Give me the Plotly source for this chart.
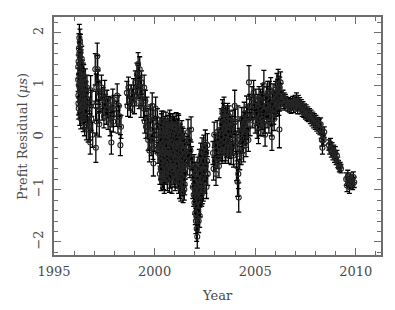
import plotly.graph_objects as go

# Epoch (year), prefit residual (microseconds), and 1-sigma uncertainty.
years = [
 1996.20,1996.21,1996.22,1996.23,1996.24,1996.25,1996.26,1996.27,1996.27,1996.28,1996.29,1996.30,1996.30,1996.31,1996.32,1996.33,1996.34,1996.35,1996.36,1996.37,1996.38,1996.39,1996.40,1996.41,1996.42,1996.44,1996.45,1996.46,1996.48,1996.49,1996.51,1996.52,1996.54,1996.56,1996.57,1996.59,1996.61,1996.62,1996.64,1996.66,1996.68,1996.70,
 1996.76,1996.78,1996.80,1996.82,1996.85,1996.88,1996.92,
 1997.05,1997.07,1997.08,1997.10,1997.12,1997.15,1997.17,1997.19,1997.21,1997.23,1997.25,1997.28,
 1997.36,1997.40,1997.44,1997.48,1997.52,1997.56,1997.60,1997.63,1997.66,1997.69,1997.72,
 1997.79,1997.82,1997.85,1997.88,1997.92,1997.95,1997.98,
 1998.10,1998.14,1998.18,1998.22,1998.26,1998.30,1998.33,
 1998.62,1998.66,1998.70,1998.75,1998.80,1998.84,
 1998.90,1998.95,1999.00,1999.04,1999.08,1999.12,1999.15,1999.18,1999.20,1999.23,1999.26,1999.29,1999.32,1999.35,1999.38,
 1999.45,1999.48,1999.51,1999.54,1999.57,
 1999.62,1999.65,1999.68,1999.71,1999.74,1999.77,1999.80,1999.83,
 1999.88,1999.90,1999.92,1999.94,1999.96,1999.98,
 2000.05,2000.08,2000.11,2000.14,2000.17,2000.20,
 2000.26,2000.27,2000.28,2000.30,2000.31,2000.32,2000.34,2000.35,2000.36,2000.38,
 2000.39,2000.40,2000.42,2000.43,2000.44,2000.46,2000.47,2000.48,2000.50,2000.51,
 2000.52,2000.54,2000.55,2000.56,2000.58,2000.59,2000.60,2000.62,2000.63,2000.64,
 2000.66,2000.67,2000.68,2000.70,2000.71,2000.72,2000.74,2000.75,2000.76,2000.78,
 2000.79,2000.80,2000.82,2000.83,2000.84,2000.86,2000.87,2000.88,2000.90,2000.91,
 2000.92,2000.94,2000.95,2000.96,2000.98,2000.99,2001.00,2001.02,2001.03,2001.04,
 2001.06,2001.07,2001.08,2001.10,2001.11,2001.12,2001.14,2001.15,2001.16,2001.18,
 2001.19,2001.20,2001.22,2001.23,2001.24,2001.26,2001.27,2001.28,2001.30,2001.31,
 2001.32,2001.34,2001.35,2001.36,2001.38,2001.39,2001.40,2001.42,2001.43,2001.44,
 2001.46,2001.48,2001.50,2001.52,2001.54,
 2001.60,2001.63,2001.66,2001.69,2001.72,2001.75,2001.78,2001.81,2001.84,
 2001.88,2001.90,2001.92,2001.94,2001.96,2001.98,2002.00,2002.02,2002.03,2002.05,
 2002.06,2002.08,2002.09,2002.10,2002.12,2002.13,2002.15,2002.16,2002.18,2002.20,
 2002.22,2002.23,2002.25,2002.27,2002.29,2002.30,2002.32,2002.34,2002.36,2002.38,
 2002.40,2002.42,2002.44,2002.46,2002.48,2002.50,2002.52,2002.54,2002.56,2002.58,
 2002.60,2002.62,2002.64,
 2002.90,2002.93,2002.96,2002.99,2003.02,2003.05,2003.08,2003.11,2003.14,2003.17,2003.20,2003.23,
 2003.27,2003.29,2003.31,2003.33,2003.35,2003.37,2003.39,2003.41,2003.43,2003.45,2003.47,2003.49,
 2003.51,2003.53,2003.55,2003.57,2003.59,2003.61,2003.63,2003.65,2003.67,2003.69,2003.71,2003.73,
 2003.77,2003.80,2003.83,2003.86,2003.89,2003.92,2003.95,2003.98,2004.01,2004.03,
 2004.07,2004.10,2004.12,2004.14,2004.16,2004.18,2004.20,2004.23,
 2004.27,2004.30,2004.33,2004.36,2004.39,2004.42,2004.45,2004.48,2004.51,2004.54,2004.57,2004.60,2004.63,2004.66,2004.69,2004.72,2004.74,
 2004.80,2004.84,2004.88,2004.92,2004.96,2005.00,2005.03,
 2005.07,2005.10,2005.13,2005.16,2005.19,2005.22,2005.25,2005.28,2005.31,2005.34,2005.37,2005.40,2005.43,2005.46,2005.49,2005.52,
 2005.56,2005.59,2005.62,2005.65,2005.68,2005.71,2005.74,2005.77,2005.80,2005.83,2005.86,2005.89,2005.92,2005.95,2005.98,2006.01,2006.04,
 2006.06,2006.08,2006.10,2006.12,2006.14,2006.16,2006.18,2006.20,2006.22,2006.24,2006.26,2006.28,
 2006.35,2006.38,2006.41,2006.44,2006.47,2006.50,2006.53,
 2006.62,2006.66,2006.70,2006.74,2006.78,2006.82,2006.86,2006.90,2006.94,2006.98,2007.02,2007.05,2007.08,2007.11,2007.14,2007.17,
 2007.21,2007.25,2007.29,2007.33,2007.37,2007.41,2007.45,2007.49,2007.53,2007.57,2007.61,2007.65,
 2007.70,2007.74,2007.78,2007.82,2007.86,2007.90,2007.94,2007.98,2008.02,2008.06,2008.10,2008.14,2008.18,
 2008.22,2008.25,2008.28,2008.31,2008.34,2008.37,2008.40,2008.43,
 2008.66,2008.70,2008.74,2008.78,2008.82,2008.86,2008.90,2008.94,2008.98,
 2009.02,2009.06,2009.10,2009.14,2009.18,2009.22,2009.26,
 2009.52,2009.56,2009.60,2009.64,2009.68,2009.72,2009.76,2009.80,2009.84,2009.88,2009.92,
 # additional epochs in the densest stretches
 2000.265,2000.285,2000.305,2000.325,2000.345,2000.365,2000.385,2000.405,2000.425,2000.445,
 2000.535,2000.575,2000.615,2000.655,2000.695,2000.735,2000.775,2000.815,2000.855,2000.895,
 2000.935,2000.975,2001.015,2001.055,2001.095,2001.135,2001.175,2001.215,2001.255,2001.295,
 2001.335,2001.375,2001.415,2001.455,2001.495,2001.535,2000.465,2000.495,2000.515,2001.475,
 1996.205,1996.215,1996.235,1996.255,1996.275,1996.295,1996.315,1996.335,1996.355,1996.375,1996.395,1996.415,1996.435,1996.455,1996.475,1996.505,
 2001.99,2002.01,2002.04,2002.07,2002.11,2002.14,2002.17,2002.19,2002.21,2002.24,2002.28,2002.33,2002.37,2002.43,
 2003.30,2003.34,2003.38,2003.42,2003.46,2003.50,2003.54,2003.58,2003.62,2003.66,2003.70,2003.74,
 2004.35,2004.44,2004.53,2004.62,2005.15,2005.27,2005.39,2005.58,2005.70,2005.82,2005.94,2006.15,
]

residuals = [
 1.10,0.80,1.45,0.55,1.70,1.20,1.90,0.95,1.55,0.45,1.82,1.30,0.70,1.62,1.05,0.38,1.40,0.85,1.18,0.60,1.50,0.95,0.48,1.25,0.75,1.05,0.35,0.88,1.15,0.62,0.95,0.28,0.78,1.05,0.50,0.85,0.20,0.65,0.95,0.40,0.72,0.15,
 0.55,0.20,-0.10,0.90,0.35,0.65,0.05,
 1.30,0.60,-0.20,0.95,0.30,1.55,1.30,1.05,0.85,0.50,0.25,0.70,
 0.95,0.55,0.75,0.40,0.85,0.62,0.45,0.70,0.55,0.35,0.60,
 0.25,0.55,-0.10,0.40,0.70,0.30,0.60,
 0.45,0.80,0.30,0.60,0.40,-0.15,0.20,
 0.85,0.60,0.95,0.72,0.58,0.80,
 0.70,0.90,0.65,1.05,0.80,1.20,0.95,1.40,1.15,0.75,1.30,0.95,0.60,1.05,0.80,
 0.55,0.95,0.30,0.70,0.20,
 0.55,0.20,-0.05,0.35,-0.25,0.10,0.40,-0.15,
 0.60,0.15,-0.20,-0.50,0.30,-0.05,
 0.55,0.20,-0.10,0.35,-0.30,0.05,
 -0.70,-0.20,0.15,-0.45,-0.05,-0.80,0.25,-0.30,-0.60,0.05,
 -0.15,-0.75,0.30,-0.40,-0.10,-0.55,0.10,-0.85,-0.25,0.20,
 -0.50,-0.05,-0.70,0.28,-0.35,-0.15,-0.60,0.10,-0.80,-0.25,
 0.22,-0.45,-0.05,-0.65,0.15,-0.30,-0.55,0.30,-0.15,-0.75,
 0.00,-0.40,0.20,-0.60,-0.20,-0.85,0.05,-0.35,0.25,-0.50,
 -0.10,-0.70,0.12,-0.30,-0.55,0.20,-0.15,-0.80,-0.40,0.05,
 -0.65,0.25,-0.25,-0.50,-0.05,-0.75,0.15,-0.35,-0.60,-0.10,
 -0.85,0.20,-0.45,-0.20,-0.95,-0.65,0.05,-0.30,-1.00,-0.50,
 -0.15,-0.75,0.10,-0.40,-0.90,-0.25,-0.60,-0.05,-0.80,-0.35,
 -0.55,-0.15,-0.70,-0.30,-0.45,
 -0.20,-0.50,0.10,-0.35,-0.05,-0.55,-0.25,0.15,-0.40,
 -0.60,-0.95,-0.75,-1.10,-0.55,-1.25,-0.85,-1.45,-1.05,-1.60,
 -0.70,-1.30,-1.75,-0.95,-1.90,-1.15,-0.60,-1.40,-0.85,-1.20,
 -0.45,-1.00,-0.70,-1.30,-0.35,-0.90,-0.55,-1.10,-0.25,-0.75,
 -0.45,-1.00,-0.20,-0.65,-0.35,-0.85,-0.10,-0.55,-0.30,-0.95,
 -0.45,-0.15,-0.70,
 -0.30,-0.60,0.05,-0.45,-0.15,-0.70,-0.25,0.10,-0.40,-0.05,-0.55,-0.20,
 0.15,-0.25,0.35,0.00,-0.30,0.50,0.10,-0.15,0.30,0.55,-0.05,0.20,
 -0.30,0.40,0.05,-0.20,0.25,-0.10,0.45,0.10,-0.30,0.20,-0.15,0.30,
 0.00,-0.30,0.20,-0.15,0.30,-0.35,0.05,0.60,0.30,-0.10,
 -0.55,-0.20,-0.85,0.35,-0.70,-1.15,-0.05,-0.40,
 0.10,-0.30,0.35,-0.10,0.20,-0.25,0.45,0.05,0.30,-0.15,0.55,0.15,0.40,-0.05,1.05,0.60,0.25,
 0.55,0.75,0.40,0.85,0.60,0.30,0.70,
 0.45,0.20,0.60,0.10,0.75,0.40,0.55,0.25,0.65,0.35,0.80,0.50,1.00,0.30,0.05,0.60,
 0.75,0.40,0.85,0.55,0.30,0.70,0.50,0.90,0.25,0.00,0.65,0.80,0.45,0.70,0.55,0.85,0.60,
 0.75,1.00,0.65,0.90,1.10,0.80,0.60,0.15,0.95,0.70,1.05,0.85,
 0.70,0.80,0.65,0.75,0.62,0.72,0.68,
 0.60,0.66,0.58,0.64,0.56,0.62,0.68,0.57,0.65,0.70,0.60,0.75,0.65,0.55,0.70,0.62,
 0.66,0.55,0.62,0.50,0.58,0.48,0.54,0.45,0.52,0.42,0.48,0.40,
 0.45,0.36,0.42,0.32,0.38,0.28,0.35,0.25,0.32,0.22,0.28,0.18,0.25,
 0.15,0.25,0.08,-0.05,-0.20,0.05,-0.05,0.10,
 -0.15,-0.22,-0.12,-0.28,-0.20,-0.33,-0.25,-0.38,-0.30,
 -0.42,-0.35,-0.48,-0.52,-0.58,-0.56,-0.60,
 -0.80,-0.92,-0.75,-0.85,-0.95,-0.78,-0.88,-0.82,-0.90,-0.76,-0.86,
 # additional epochs in the densest stretches
 -0.35,0.05,-0.60,-0.20,0.30,-0.45,-0.70,0.15,-0.25,-0.80,
 0.10,-0.65,-0.30,0.05,-0.50,-0.85,0.25,-0.10,-0.55,-0.30,
 0.20,-0.75,-0.20,0.10,-0.60,-0.40,0.25,-0.70,-0.15,-0.85,
 -0.55,0.00,-1.05,-0.25,-0.90,-0.60,-0.30,-0.70,0.05,-1.00,
 1.35,0.65,1.00,1.60,1.10,0.90,1.75,0.55,1.45,1.00,0.70,1.10,0.58,1.20,0.40,0.68,
 -1.00,-0.70,-1.30,-1.10,-1.55,-0.80,-1.05,-1.60,-0.90,-1.50,-0.60,-0.80,-1.05,-0.60,
 -0.10,0.25,-0.25,0.45,0.15,0.05,-0.25,0.35,0.20,-0.05,0.40,-0.20,
 0.15,0.25,0.10,0.35,0.35,0.70,0.25,0.60,0.85,0.45,0.35,0.95,
]

errors = [
 0.22,0.20,0.25,0.20,0.28,0.22,0.26,0.20,0.24,0.22,0.25,0.22,0.20,0.24,0.20,0.22,0.22,0.20,0.22,0.20,0.24,0.20,0.22,0.22,0.20,0.22,0.24,0.20,0.24,0.20,0.22,0.25,0.20,0.26,0.22,0.22,0.25,0.20,0.24,0.22,0.22,0.24,
 0.22,0.25,0.22,0.28,0.22,0.25,0.24,
 0.30,0.28,0.28,0.26,0.26,0.25,0.26,0.22,0.22,0.22,0.24,0.22,
 0.24,0.22,0.20,0.22,0.24,0.20,0.20,0.20,0.18,0.20,0.18,
 0.22,0.22,0.22,0.20,0.22,0.20,0.20,
 0.24,0.22,0.22,0.20,0.20,0.20,0.22,
 0.22,0.20,0.20,0.20,0.20,0.20,
 0.22,0.22,0.20,0.22,0.20,0.22,0.20,0.22,0.22,0.20,0.24,0.20,0.22,0.22,0.20,
 0.22,0.24,0.22,0.20,0.22,
 0.22,0.20,0.20,0.20,0.22,0.20,0.22,0.20,
 0.25,0.22,0.22,0.24,0.22,0.22,
 0.22,0.20,0.20,0.20,0.20,0.22,
 0.20,0.22,0.22,0.20,0.20,0.22,0.20,0.20,0.20,0.20,
 0.18,0.22,0.20,0.20,0.18,0.20,0.20,0.22,0.20,0.20,
 0.20,0.18,0.20,0.20,0.20,0.18,0.20,0.20,0.22,0.18,
 0.20,0.20,0.18,0.20,0.20,0.18,0.20,0.22,0.18,0.22,
 0.18,0.20,0.20,0.20,0.18,0.22,0.20,0.18,0.20,0.20,
 0.18,0.20,0.20,0.18,0.20,0.20,0.18,0.22,0.20,0.18,
 0.20,0.22,0.18,0.20,0.18,0.22,0.20,0.20,0.20,0.18,
 0.22,0.22,0.20,0.18,0.22,0.20,0.20,0.18,0.22,0.20,
 0.20,0.20,0.22,0.20,0.22,0.20,0.20,0.22,0.22,0.20,
 0.20,0.22,0.22,0.20,0.22,
 0.22,0.22,0.24,0.20,0.22,0.22,0.20,0.24,0.22,
 0.22,0.22,0.20,0.22,0.22,0.22,0.20,0.22,0.20,0.24,
 0.22,0.22,0.24,0.20,0.22,0.22,0.22,0.22,0.20,0.22,
 0.22,0.20,0.20,0.22,0.24,0.20,0.20,0.22,0.24,0.20,
 0.20,0.22,0.24,0.20,0.20,0.22,0.24,0.20,0.20,0.22,
 0.20,0.22,0.22,
 0.22,0.22,0.24,0.20,0.20,0.22,0.20,0.22,0.20,0.20,0.22,0.20,
 0.20,0.20,0.20,0.18,0.20,0.22,0.18,0.18,0.20,0.22,0.18,0.18,
 0.20,0.20,0.18,0.18,0.20,0.18,0.20,0.18,0.20,0.18,0.20,0.20,
 0.20,0.22,0.20,0.20,0.22,0.22,0.20,0.30,0.24,0.22,
 0.28,0.25,0.28,0.25,0.28,0.28,0.22,0.22,
 0.22,0.22,0.22,0.20,0.20,0.22,0.22,0.20,0.20,0.22,0.24,0.20,0.22,0.22,0.32,0.22,0.22,
 0.22,0.22,0.22,0.24,0.22,0.22,0.22,
 0.22,0.22,0.22,0.22,0.22,0.20,0.20,0.22,0.22,0.20,0.22,0.20,0.28,0.22,0.22,0.20,
 0.22,0.22,0.22,0.20,0.22,0.22,0.20,0.24,0.22,0.25,0.20,0.22,0.20,0.20,0.20,0.22,0.20,
 0.20,0.22,0.20,0.20,0.20,0.18,0.18,0.35,0.20,0.18,0.20,0.18,
 0.10,0.10,0.10,0.10,0.10,0.10,0.10,
 0.10,0.10,0.10,0.10,0.10,0.10,0.10,0.10,0.10,0.10,0.10,0.10,0.10,0.10,0.10,0.10,
 0.10,0.10,0.10,0.10,0.10,0.10,0.10,0.10,0.10,0.10,0.10,0.10,
 0.10,0.10,0.10,0.10,0.10,0.10,0.10,0.10,0.10,0.10,0.10,0.10,0.10,
 0.10,0.12,0.10,0.12,0.12,0.10,0.10,0.10,
 0.10,0.10,0.10,0.10,0.10,0.10,0.10,0.10,0.12,
 0.10,0.10,0.10,0.08,0.08,0.08,0.08,
 0.12,0.12,0.12,0.10,0.12,0.10,0.10,0.10,0.10,0.10,0.10,
 # additional epochs in the densest stretches
 0.20,0.20,0.20,0.20,0.20,0.20,0.20,0.20,0.20,0.20,
 0.20,0.20,0.20,0.20,0.20,0.20,0.20,0.20,0.20,0.20,
 0.20,0.20,0.20,0.20,0.20,0.20,0.20,0.20,0.20,0.20,
 0.20,0.20,0.20,0.20,0.20,0.20,0.20,0.20,0.20,0.20,
 0.22,0.22,0.22,0.22,0.22,0.22,0.22,0.22,0.22,0.22,0.22,0.22,0.22,0.22,0.22,0.22,
 0.22,0.22,0.22,0.22,0.22,0.22,0.22,0.22,0.22,0.22,0.22,0.22,0.22,0.22,
 0.20,0.20,0.20,0.20,0.20,0.20,0.20,0.20,0.20,0.20,0.20,0.20,
 0.22,0.22,0.22,0.22,0.22,0.22,0.22,0.22,0.22,0.22,0.22,0.22,
]

x_tick_vals = [1995, 2000, 2005, 2010]
y_tick_vals = [-2, -1, 0, 1, 2]
y_tick_text = ["\u22122", "\u22121", "0", "1", "2"]

n = min(len(years), len(residuals), len(errors))

FONT = "DejaVu Serif"
AX = "#6e6e6e"
TXT = "#4a4a4a"

fig = go.Figure()
fig.add_trace(go.Scatter(
    x=years[:n], y=residuals[:n], mode="markers",
    marker=dict(symbol="circle-open", size=5, color="#262626", line=dict(width=1.1)),
    error_y=dict(type="data", array=errors[:n], visible=True, color="#000000", thickness=1.3, width=2.5),
    showlegend=False,
))

axis_common = dict(
    showline=True, linecolor=AX, linewidth=1.5, mirror="ticks",
    ticks="inside", ticklen=7, tickwidth=1, tickcolor=AX,
    showgrid=False, zeroline=False, automargin=False,
    tickfont=dict(family=FONT, size=13, color=TXT),
)
fig.update_xaxes(
    range=[1995, 2011.25], tickmode="array", tickvals=x_tick_vals,
    minor=dict(dtick=1, tick0=1995, ticks="inside", ticklen=4, tickcolor=AX, showgrid=False),
    ticklabelstandoff=4,
    **axis_common,
)
fig.update_yaxes(
    range=[-2.25, 2.3], tickmode="array", tickvals=y_tick_vals, ticktext=y_tick_text,
    tickangle=-90,
    minor=dict(dtick=0.2, tick0=0, ticks="inside", ticklen=4, tickcolor=AX, showgrid=False),
    ticklabelstandoff=4,
    **axis_common,
)

# The page body keeps an 8 px margin, so the figure is sized to fit inside the 395x310 window.
fig.update_layout(
    width=379, height=294,
    margin=dict(l=46, r=6, t=9, b=47),
    paper_bgcolor="white", plot_bgcolor="white",
    font=dict(family=FONT, color=TXT),
    annotations=[
        dict(text="Year", xref="paper", yref="paper", x=0.5, y=-0.172,
             xanchor="center", yanchor="middle", showarrow=False,
             font=dict(family=FONT, size=13, color=TXT)),
        dict(text="Prefit Residual (<i>\u03bcs</i>)", xref="paper", yref="paper",
             x=-0.098, y=0.5, xanchor="center", yanchor="middle", textangle=-90,
             showarrow=False, font=dict(family=FONT, size=13, color=TXT)),
    ],
)

fig.write_html("out.html")
